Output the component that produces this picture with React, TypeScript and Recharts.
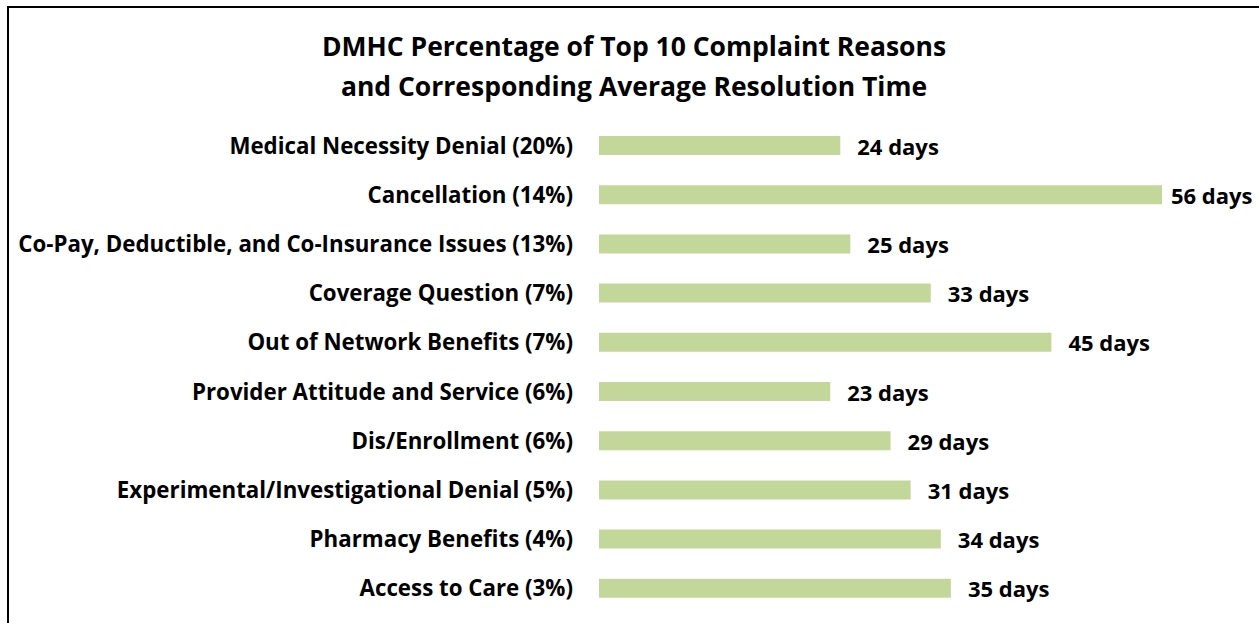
import { Bar, BarChart, LabelList, XAxis, YAxis } from "recharts";

const reasons = [
  "Medical Necessity Denial (20%)",
  "Cancellation (14%)",
  "Co-Pay, Deductible, and Co-Insurance Issues (13%)",
  "Coverage Question (7%)",
  "Out of Network Benefits (7%)",
  "Provider Attitude and Service (6%)",
  "Dis/Enrollment (6%)",
  "Experimental/Investigational Denial (5%)",
  "Pharmacy Benefits (4%)",
  "Access to Care (3%)",
];

const resolutionDays = [24, 56, 25, 33, 45, 23, 29, 31, 34, 35];

const titleLines = [
  "DMHC Percentage of Top 10 Complaint Reasons",
  "and Corresponding Average Resolution Time",
];

const data = reasons.map((name, i) => ({ name, days: resolutionDays[i] }));

const FONT = "'Open Sans', Lato, sans-serif";
const CHART_W = 1252;
const LABEL_W = 86;

// like excel: label sits right of the bar, pulled back in if it would run off the edge
function DaysLabel(props: any) {
  const { x, y, width, height, value } = props;
  const end = Number(x) + Number(width);
  const left = Math.min(end + 17, CHART_W - LABEL_W - 4);
  return (
    <text
      x={left}
      y={Number(y) + Number(height) / 2}
      dominantBaseline="central"
      fill="#000"
      fontSize={22}
      fontWeight={700}
      fontFamily={FONT}
    >
      {`${value} days`}
    </text>
  );
}

export default function App() {
  return (
    <div
      style={{
        position: "absolute",
        left: 7,
        top: 6,
        width: CHART_W,
        height: 617,
        borderLeft: "2px solid #000",
        borderTop: "2px solid #000",
        background: "#fff",
        fontFamily: FONT,
      }}
    >
      <div
        style={{
          position: "absolute",
          left: 0,
          top: 18,
          width: 1250,
          textAlign: "center",
          fontSize: 26.5,
          fontWeight: 700,
          lineHeight: "40px",
          color: "#000",
        }}
      >
        {titleLines.map((line) => (
          <div key={line}>{line}</div>
        ))}
      </div>
      <BarChart
        width={CHART_W}
        height={615}
        data={data}
        layout="vertical"
        margin={{ top: 113, right: 99, bottom: 10, left: 0 }}
        barCategoryGap={0}
      >
        <XAxis type="number" domain={[0, 56]} hide />
        <YAxis
          type="category"
          dataKey="name"
          width={590}
          axisLine={false}
          tickLine={false}
          tickSize={0}
          tickMargin={26}
          interval={0}
          tick={{ fill: "#000", fontSize: 22.3, fontWeight: 700, fontFamily: FONT }}
        />
        <Bar dataKey="days" fill="#c4d79b" barSize={19} isAnimationActive={false}>
          <LabelList dataKey="days" content={DaysLabel} />
        </Bar>
      </BarChart>
    </div>
  );
}
